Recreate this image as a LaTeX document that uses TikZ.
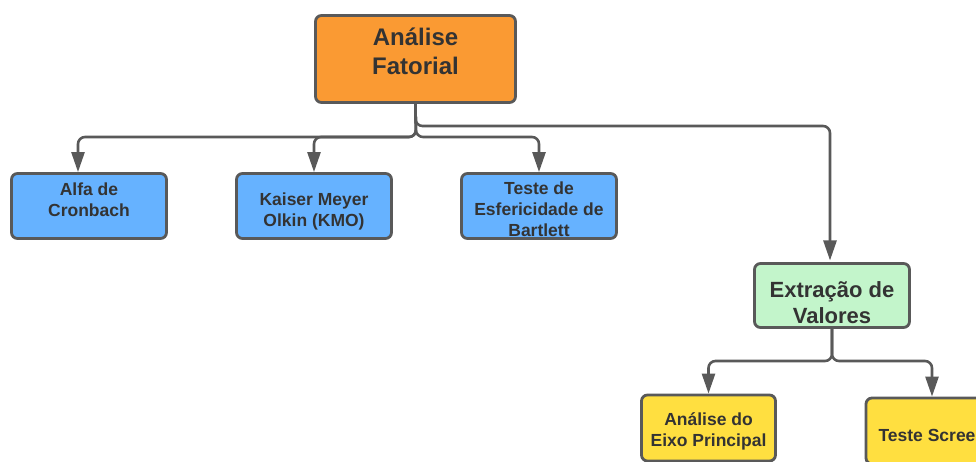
\documentclass[tikz,border=0pt]{standalone}
\usepackage{fontspec}
\setmainfont{Liberation Sans}
\usetikzlibrary{arrows.meta}
\definecolor{edge}{HTML}{595959}
\definecolor{ink}{HTML}{333333}
\definecolor{orangefill}{HTML}{FA9A33}
\definecolor{bluefill}{HTML}{66B2FF}
\definecolor{greenfill}{HTML}{C3F5CB}
\definecolor{yellowfill}{HTML}{FFDF40}
\begin{document}
\begin{tikzpicture}[x=1pt,y=-1pt,
  box/.style={draw=edge, line width=2.8pt, rounded corners=6pt, inner sep=0pt},
  caption/.style={align=center, inner sep=0pt, text=ink},
  bigtext/.style={caption, font=\bfseries\fontsize{24}{29}\selectfont},
  midtext/.style={caption, font=\bfseries\fontsize{22}{26}\selectfont},
  smalltext/.style={caption, font=\bfseries\fontsize{17.5}{21}\selectfont},
  conn/.style={draw=edge, line width=2.6pt, rounded corners=7pt,
    -{Triangle[length=20pt,width=13pt]}}]
\useasboundingbox (0,0) rectangle (976,462);
\clip (0,0) rectangle (976,462);

% boxes
\node[box, fill=orangefill, minimum width=200pt, minimum height=87pt]
  (root) at (415.5,59) {};
\node[box, fill=bluefill, minimum width=155pt, minimum height=65pt]
  (alfa) at (89,206) {};
\node[box, fill=bluefill, minimum width=155pt, minimum height=65pt]
  (kmo) at (314,206) {};
\node[box, fill=bluefill, minimum width=155pt, minimum height=65pt]
  (bart) at (539,206) {};
\node[box, fill=greenfill, minimum width=155pt, minimum height=64pt]
  (extr) at (832,295.5) {};
\node[box, fill=yellowfill, minimum width=134pt, minimum height=66pt]
  (eixo) at (708.5,428) {};
\node[box, fill=yellowfill, minimum width=132pt, minimum height=66pt]
  (scree) at (932,431) {};

% captions
\node[bigtext] (root-t) at ([yshift=8pt]root.center) {Análise\\Fatorial};
\node[smalltext] (alfa-t) at ([yshift=6pt]alfa.center) {Alfa de\\Cronbach};
\node[smalltext] (kmo-t) at ([yshift=-5pt]kmo.center) {Kaiser Meyer\\Olkin (KMO)};
\node[smalltext] (bart-t) at ([yshift=-3pt]bart.center) {Teste de\\Esfericidade de\\Bartlett};
\node[midtext] (extr-t) at ([yshift=-7pt]extr.center) {Extração de\\Valores};
\node[smalltext] (eixo-t) at ([yshift=-3pt]eixo.center) {Análise do\\Eixo Principal};
\node[smalltext] (scree-t) at ([xshift=-5pt,yshift=-4pt]scree.center) {Teste Scree};

% connectors from the root
\coordinate (split) at (416,137);
\draw[conn] (root.south) -- (split) -| ([xshift=-11pt]alfa.north);
\draw[conn] (root.south) -- (split) -| (kmo.north);
\draw[conn] (root.south) -- (split) -| (bart.north);
\draw[conn] (root.south) |- (830,126) -- (830,260.5);

% connectors from the extraction node
\coordinate (split2) at (832,361);
\draw[conn] (extr.south) -- (split2) -| (eixo.north);
\draw[conn] (extr.south) -- (split2) -| (scree.north);
\end{tikzpicture}
\end{document}
